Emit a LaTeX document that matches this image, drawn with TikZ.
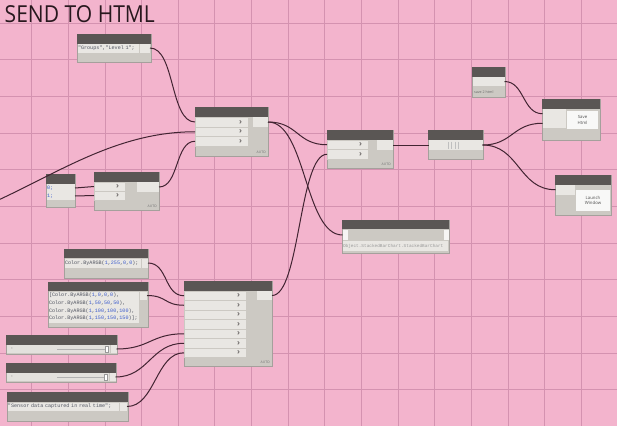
\documentclass[tikz,border=0pt]{standalone}
\usepackage{fontspec}
\usepackage{tikz}
\usetikzlibrary{positioning}
\newfontfamily\titlefont{Open Sans}
\newfontfamily\uifont{Open Sans}
\newfontfamily\codefont{Liberation Mono}
\definecolor{pinkbg}{RGB}{243,180,205}
\definecolor{gridpink}{RGB}{212,146,176}
\definecolor{dhead}{RGB}{90,86,84}
\definecolor{dbody}{RGB}{204,201,195}
\definecolor{dport}{RGB}{233,231,227}
\definecolor{dedge}{RGB}{165,160,156}
\definecolor{wirecol}{RGB}{66,36,50}
\definecolor{codename}{RGB}{80,84,96}
\definecolor{codenum}{RGB}{58,90,205}
\newcommand{\cnum}[1]{\textcolor{codenum}{#1}}

\begin{document}
\begin{tikzpicture}[x=1pt, y=-1pt,
    body/.style={fill=dbody, draw=dedge, line width=0.4, inner sep=0, outer sep=0, anchor=north west},
    hdr/.style={fill=dhead, inner sep=0, outer sep=0, anchor=north west, minimum height=9.5},
    chev/.style={font=\uifont\bfseries\fontsize{8}{8}\selectfont, text=dhead!85, inner sep=0, label distance=-9},
    inport/.style={fill=dport, draw=dbody, line width=0.3, inner sep=0, outer sep=0, anchor=north west,
                   label={[chev]east:{›}}},
    plainport/.style={fill=dport, inner sep=0, outer sep=0, anchor=north west},
    outport/.style={fill=dport, inner sep=0, outer sep=0, anchor=north west},
    codebox/.style={fill=dport, inner sep=0, outer sep=0, anchor=north west, align=left, text=codename,
                    font=\codefont\fontsize{5.1}{7.6}\selectfont},
    button/.style={fill=white!70!dport, inner sep=0, outer sep=0, anchor=north west, align=center,
                   text=black!70, font=\uifont\fontsize{4.3}{5.6}\selectfont},
    lacing/.style={font=\uifont\fontsize{3.4}{3.4}\selectfont, text=black!55, inner sep=0, anchor=south east},
    wire/.style={draw=wirecol, line width=1},
    gridline/.style={draw=gridpink, line width=0.6}]

  \useasboundingbox (0,0) rectangle (617,426);
  \clip (0,0) rectangle (617,426);

  % background and grid
  \fill[pinkbg] (0,0) rectangle (617,426);
  \foreach \i in {0,...,15}
    \draw[gridline] (31.5+36.65*\i,0) -- (31.5+36.65*\i,426);
  \foreach \j in {0,...,10}
    \draw[gridline] (0,23+36.65*\j) -- (617,23+36.65*\j);

  \node[anchor=base west, inner sep=0, text={rgb,255:red,40;green,24;blue,30},
        font=\titlefont\fontsize{23.4}{24}\selectfont] (title) at (4.5,22.7)
        {\scalebox{0.9}[1]{SEND TO HTML}};

  % code block: groups
  \node[body, minimum width=74, minimum height=28] (grp) at (77,34) {};
  \node[hdr, minimum width=74] (grph) at (grp.north west) {};
  \node[codebox, text width=61, minimum height=9] (grptxt) at (78,43.5) {"Groups","Level 1";};
  \node[outport, minimum width=10, minimum height=9] (grpout) at (140,43.5) {};

  % node A
  \node[body, minimum width=73, minimum height=49] (a) at (195,107) {};
  \node[hdr, minimum width=73, minimum height=10] (ah) at (a.north west) {};
  \node[inport, minimum width=53, minimum height=10] (a1) at (195,117) {};
  \node[inport, minimum width=53, minimum height=9.5] (a2) at (195,127) {};
  \node[inport, minimum width=53, minimum height=9.5] (a3) at (195,136.5) {};
  \node[outport, minimum width=15, minimum height=10] (aout) at (253,117) {};
  \node[lacing] (aauto) at ([xshift=-2,yshift=2]a.south east) {AUTO};

  % code block 0;1;
  \node[body, minimum width=29, minimum height=33] (b) at (46,174) {};
  \node[hdr, minimum width=29] (bh) at (b.north west) {};
  \node[codebox, text width=20, minimum height=16, text=codenum] (btxt) at (47,184) {0;\\1;};
  \node[outport, minimum width=8, minimum height=8] (bout1) at (67,184) {};
  \node[outport, minimum width=8, minimum height=8] (bout2) at (67,192) {};

  % node C
  \node[body, minimum width=65, minimum height=38] (c) at (94,172) {};
  \node[hdr, minimum width=65, minimum height=10] (ch) at (c.north west) {};
  \node[inport, minimum width=31, minimum height=9] (c1) at (94,182) {};
  \node[inport, minimum width=31, minimum height=9] (c2) at (94,191) {};
  \node[outport, minimum width=22, minimum height=10] (cout) at (137,182) {};
  \node[lacing] (cauto) at ([xshift=-2,yshift=2]c.south east) {AUTO};

  % node D
  \node[body, minimum width=66, minimum height=38] (d) at (327,130) {};
  \node[hdr, minimum width=66, minimum height=10] (dh) at (d.north west) {};
  \node[inport, minimum width=41, minimum height=9.5] (d1) at (327,140) {};
  \node[inport, minimum width=41, minimum height=9.5] (d2) at (327,149.5) {};
  \node[outport, minimum width=16, minimum height=10] (dout) at (377,140) {};
  \node[lacing] (dauto) at ([xshift=-2,yshift=2]d.south east) {AUTO};

  % node G
  \node[body, minimum width=55, minimum height=29] (g) at (428,130) {};
  \node[hdr, minimum width=55, minimum height=9.5] (gh) at (g.north west) {};
  \node[plainport, minimum width=54, minimum height=10] (grow) at (428.5,140) {};
  \foreach \k in {448,451,455,458}
    \draw[black!25, line width=0.5] (\k,141.5) -- (\k,148.5);

  % toggle
  \node[body, minimum width=33, minimum height=30] (tog) at (472,67) {};
  \node[hdr, minimum width=33, minimum height=10] (togh) at (tog.north west) {};
  \node[plainport, minimum width=32, minimum height=9] (togrow) at (472.5,77) {};
  \node[anchor=west, inner sep=0, text=black!60, font=\uifont\fontsize{3.6}{3.6}\selectfont]
       (toglbl) at (474,92) {save 2 html};

  % save html
  \node[body, minimum width=58, minimum height=41] (h) at (542,99) {};
  \node[hdr, minimum width=58] (hh) at (h.north west) {};
  \node[plainport, minimum width=23, minimum height=9.5] (h1) at (542.5,109) {};
  \node[plainport, minimum width=23, minimum height=9.5] (h2) at (542.5,118.5) {};
  \node[button, minimum width=31, minimum height=18] (hbtn) at (567,111) {Save\\Html};

  % launch window
  \node[body, minimum width=56, minimum height=40] (j) at (555,175) {};
  \node[hdr, minimum width=56, minimum height=10] (jh) at (j.north west) {};
  \node[plainport, minimum width=19, minimum height=9.5] (j1) at (555.5,185) {};
  \node[button, minimum width=34, minimum height=21] (jbtn) at (576,190) {Launch\\Window};

  % stacked bar chart
  \node[body, minimum width=107, minimum height=33] (f) at (342,220) {};
  \node[hdr, minimum width=107, minimum height=9] (fh) at (f.north west) {};
  \node[outport, minimum width=5, minimum height=10, fill=white!60!dport] (f1) at (342.5,230) {};
  \node[outport, minimum width=5, minimum height=10, fill=white!60!dport] (fout) at (443.5,230) {};
  \node[codebox, text width=105, minimum height=10, text=black!40,
        font=\codefont\fontsize{4.4}{5}\selectfont] (ftxt) at (343,241) {Object.StackedBarChart.StackedBarChart};

  % colour code blocks
  \node[body, minimum width=84, minimum height=29] (col1) at (64,249) {};
  \node[hdr, minimum width=84, minimum height=9] (col1h) at (col1.north west) {};
  \node[codebox, text width=76, minimum height=9] (col1txt) at (65,258.5)
       {Color.ByARGB(\cnum{1},\cnum{255},\cnum{0},\cnum{0});};
  \node[outport, minimum width=6, minimum height=9] (col1out) at (142,258.5) {};

  \node[body, minimum width=100, minimum height=45] (col2) at (48,282) {};
  \node[hdr, minimum width=100, minimum height=9] (col2h) at (col2.north west) {};
  \node[codebox, text width=90, minimum height=31] (col2txt) at (49,291.5)
       {[Color.ByARGB(\cnum{1},\cnum{0},\cnum{0},\cnum{0}),\\
        Color.ByARGB(\cnum{1},\cnum{50},\cnum{50},\cnum{50}),\\
        Color.ByARGB(\cnum{1},\cnum{100},\cnum{100},\cnum{100}),\\
        Color.ByARGB(\cnum{1},\cnum{150},\cnum{150},\cnum{150})];};
  \node[outport, minimum width=7, minimum height=8] (col2out) at (140,291.5) {};

  % sliders
  \node[body, minimum width=111, minimum height=19] (sl1) at (6,335) {};
  \node[hdr, minimum width=111, minimum height=9.5] (sl1h) at (sl1.north west) {};
  \node[plainport, minimum width=103, minimum height=8, fill=dport!80!dbody] (sl1bar) at (7,345) {};
  \draw[black!30, line width=0.6] (57,349) -- (105,349);
  \node[fill=white, draw=black!40, line width=0.3, minimum width=3, minimum height=6, inner sep=0] (sl1thumb) at (107,349) {};
  \node[inner sep=0, text=black!55, font=\uifont\fontsize{4}{4}\selectfont] (sl1icon) at (12,349) {‹};
  \node[outport, minimum width=6, minimum height=8] (sl1out) at (110.5,345) {};

  \node[body, minimum width=110, minimum height=19] (sl2) at (6,363) {};
  \node[hdr, minimum width=110, minimum height=9.5] (sl2h) at (sl2.north west) {};
  \node[plainport, minimum width=102, minimum height=8, fill=dport!80!dbody] (sl2bar) at (7,373) {};
  \draw[black!30, line width=0.6] (57,377) -- (104,377);
  \node[fill=white, draw=black!40, line width=0.3, minimum width=3, minimum height=6, inner sep=0] (sl2thumb) at (106,377) {};
  \node[inner sep=0, text=black!55, font=\uifont\fontsize{4}{4}\selectfont] (sl2icon) at (12,377) {‹};
  \node[outport, minimum width=6, minimum height=8] (sl2out) at (109.5,373) {};

  % string block
  \node[body, minimum width=121, minimum height=29] (str) at (7,392) {};
  \node[hdr, minimum width=121, minimum height=10] (strh) at (str.north west) {};
  \node[codebox, text width=111, minimum height=8] (strtxt) at (8,402.5) {"Sensor data captured in real time";};
  \node[outport, minimum width=7, minimum height=8] (strout) at (120,402.5) {};

  % node E
  \node[body, minimum width=88, minimum height=85] (e) at (184,281) {};
  \node[hdr, minimum width=88, minimum height=10] (eh) at (e.north west) {};
  \foreach \i in {1,...,7}
    \node[inport, minimum width=62, minimum height=9.5] (e\i) at (184,281.5+9.5*\i) {};
  \node[outport, minimum width=15, minimum height=9] (eout) at (257,291) {};
  \node[lacing] (eauto) at ([xshift=-2,yshift=2]e.south east) {AUTO};

  % wires
  \coordinate (lft) at (-120,230);
  \draw[wire] (grpout.east) .. controls +(25,0) and +(-25,0) .. (a1.west);
  \draw[wire] (lft) .. controls +(120,0) and +(-120,0) .. (a2.west);
  \draw[wire] (cout.east) .. controls +(20,0) and +(-20,0) .. (a3.west);
  \draw[wire] (bout1.east) .. controls +(10,0) and +(-10,0) .. (c1.west);
  \draw[wire] (bout2.east) .. controls +(10,0) and +(-10,0) .. (c2.west);
  \draw[wire] (aout.east) .. controls +(30,0) and +(-30,0) .. (d1.west);
  \draw[wire] (aout.east) .. controls +(38,0) and +(-38,0) .. (f1.west);
  \draw[wire] (eout.east) .. controls +(28,0) and +(-28,0) .. (d2.west);
  \draw[wire] (dout.east) -- (grow.west);
  \draw[wire] (togrow.east) .. controls +(20,0) and +(-20,0) .. (h1.west);
  \draw[wire] (grow.east) .. controls +(30,0) and +(-30,0) .. (h2.west);
  \draw[wire] (grow.east) .. controls +(37,0) and +(-37,0) .. (j1.west);
  \draw[wire] (col1out.east) .. controls +(20,0) and +(-20,0) .. (e1.west);
  \draw[wire] (col2out.east) .. controls +(20,0) and +(-20,0) .. (e2.west);
  \draw[wire] (sl1out.east) .. controls +(33,0) and +(-33,0) .. (e5.west);
  \draw[wire] (sl2out.east) .. controls +(33,0) and +(-33,0) .. (e6.west);
  \draw[wire] (strout.east) .. controls +(28,0) and +(-28,0) .. (e7.west);
\end{tikzpicture}
\end{document}
